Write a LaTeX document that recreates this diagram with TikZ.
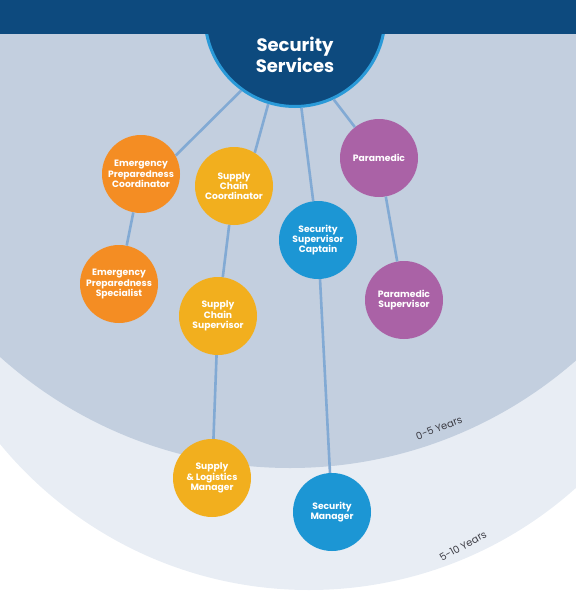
\documentclass[tikz,border=0pt]{standalone}
\usepackage{fontspec}
\setmainfont{Poppins}
\usetikzlibrary{positioning}
\definecolor{navy}{HTML}{0D4A7E}
\definecolor{ringblue}{HTML}{2A9AD8}
\definecolor{zoneA}{HTML}{C3CFDF}
\definecolor{zoneB}{HTML}{E8EDF4}
\definecolor{linkblue}{HTML}{82AAD4}
\definecolor{emorange}{HTML}{F48D23}
\definecolor{supgold}{HTML}{F2AF1E}
\definecolor{secblue}{HTML}{1C96D4}
\definecolor{medpurple}{HTML}{AA62A6}
\definecolor{yeartext}{HTML}{3C3C44}

\begin{document}
\begin{tikzpicture}[x=1pt, y=-1pt,
  role/.style={circle, minimum size=78pt, inner sep=0pt, align=center, text=white,
    font=\fontsize{9.2}{10.3}\selectfont\bfseries},
  link/.style={draw=linkblue, line width=2.6pt},
  years/.style={text=yeartext, font=\fontsize{10}{11}\selectfont}]
\useasboundingbox (0,0) rectangle (576,611);
\begin{scope}
\clip (0,0) rectangle (576,611);
\fill[zoneB] (309,190) circle (400pt);
\fill[zoneA] (290,34) circle (434pt);
\node[circle, fill=navy, draw=ringblue, line width=3pt, minimum size=180pt, inner sep=0pt] (hub) at (295,16.5) {};
\fill[navy] (0,0) rectangle (576,34);
\end{scope}
\node[text=white, align=center, font=\fontsize{18}{21.5}\selectfont\bfseries] (hubtxt) at (295,55) {Security\\Services};

\node[role, fill=emorange] (epc) at (141,174) {Emergency\\Preparedness\\Coordinator};
\node[role, fill=emorange] (eps) at (119,284) {Emergency\\Preparedness\\Specialist};
\node[role, fill=supgold] (scc) at (234,186) {Supply\\Chain\\Coordinator};
\node[role, fill=supgold] (scs) at (218,316) {Supply\\Chain\\Supervisor};
\node[role, fill=supgold] (slm) at (212,478) {Supply\\\& Logistics\\Manager};
\node[role, fill=secblue] (ssc) at (318,240) {Security\\Supervisor\\Captain};
\node[role, fill=secblue] (sm) at (332,512) {Security\\Manager};
\node[role, fill=medpurple] (para) at (379,158) {Paramedic};
\node[role, fill=medpurple] (paras) at (404,300) {Paramedic\\Supervisor};

\draw[link] (hub.234) -- (epc.28);
\draw[link] (hub.253) -- (scc.58);
\draw[link] (hub.274) -- (ssc.97);
\draw[link] (hub.295) -- (para.128);
\draw[link] (epc) -- (eps);
\draw[link] (scc) -- (scs);
\draw[link] (scs) -- (slm);
\draw[link] (ssc) -- (sm);
\draw[link] (para) -- (paras);

\node[years, rotate=21] (yrA) at (439,428) {0-5 Years};
\node[years, rotate=29] (yrB) at (463,546) {5-10 Years};
\end{tikzpicture}
\end{document}
